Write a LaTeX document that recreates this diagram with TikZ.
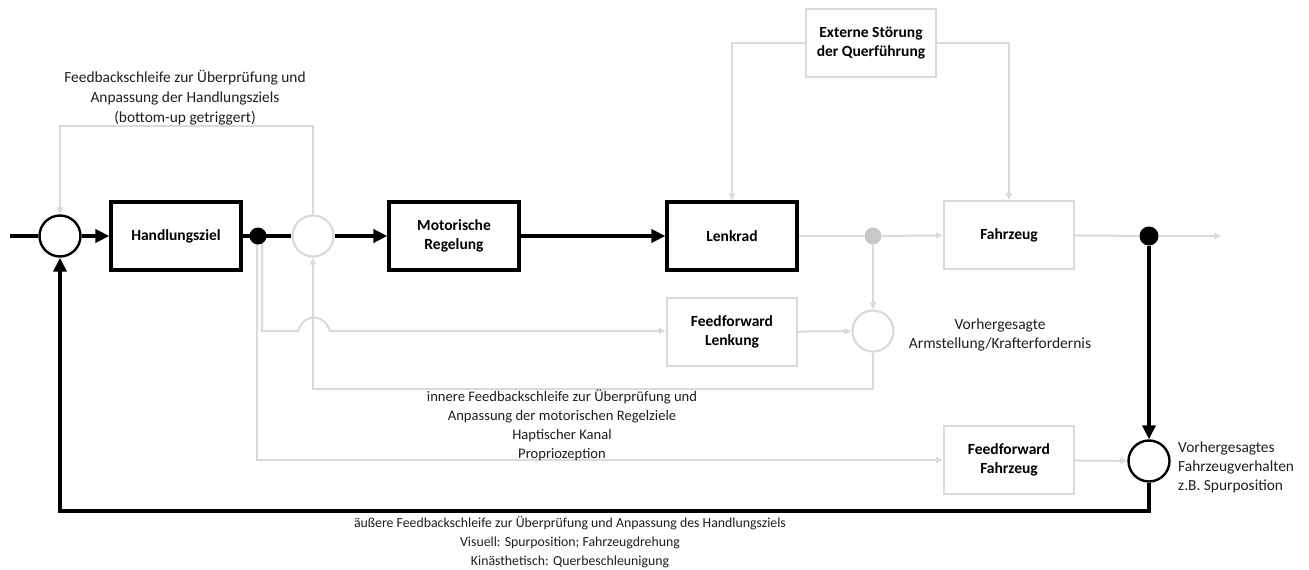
\documentclass[tikz,border=0pt]{standalone}
\usepackage{fontspec}
\setmainfont{Carlito}
\usetikzlibrary{arrows.meta,backgrounds}
\definecolor{lgrey}{HTML}{DADADA}
\definecolor{dotgrey}{HTML}{C8C8C8}
\definecolor{txt}{HTML}{1E1E1E}
\begin{document}
\begin{tikzpicture}[x=1pt,y=-1pt,
  every node/.style={font=\fontsize{15}{19}\selectfont, text=txt},
  blkbox/.style={draw=black, line width=3.2pt, minimum width=130pt, minimum height=68pt, font=\fontsize{15.5}{19}\selectfont\bfseries, align=center, text=black, fill=white},
  grybox/.style={draw=lgrey, line width=2.2pt, minimum width=130pt, minimum height=68pt, font=\fontsize{15.5}{19}\selectfont\bfseries, align=center, text=black, fill=white},
  blkcirc/.style={circle, draw=black, line width=2.4pt, minimum size=41pt, inner sep=0pt, fill=white},
  grycirc/.style={circle, draw=lgrey, line width=2.2pt, minimum size=41pt, inner sep=0pt, fill=white},
  dot/.style={circle, fill=#1, minimum size=17pt, inner sep=0pt},
  blk/.style={draw=black, line width=3.6pt},
  blkarr/.style={blk, -{Triangle[length=14pt,width=13pt]}},
  gry/.style={draw=lgrey, line width=2pt},
  gryarr/.style={gry, -{Triangle[length=7pt,width=6pt]}},
  lbl/.style={align=center, inner sep=0pt}
]
\useasboundingbox (0,0) rectangle (1309,570);

% blocks of the main path
\node[blkcirc] (c1) at (60,236) {};
\node[blkbox] (hz) at (176,236) {Handlungsziel};
\node[dot=black] (d1) at (258,236) {};
\node[grycirc] (c2) at (313,236) {};
\node[blkbox] (mr) at (454,236) {Motorische\\Regelung};
\node[blkbox] (lk) at (732,236) {Lenkrad};
\node[dot=dotgrey] (d2) at (873,236) {};
\node[grybox] (fz) at (1009,235) {Fahrzeug};
\node[dot=black, minimum size=19pt] (d3) at (1149,236) {};
\coordinate (in) at (10,236);
\coordinate (out) at (1221,236);

% disturbance and feedforward blocks
\node[grybox] (ext) at (871,43) {Externe Störung\\der Querführung};
\node[grybox] (ffl) at (732,332) {Feedforward\\Lenkung};
\node[grycirc] (c3) at (873,331) {};
\node[grybox] (ffz) at (1009,460) {Feedforward\\Fahrzeug};
\node[blkcirc] (c4) at (1149,461) {};

% corners of the loops
\coordinate (il) at (313,389);
\coordinate (ol) at (60,511);
\coordinate (j1) at (298,331);
\coordinate (j2) at (330,331);

\begin{scope}[on background layer]
  % main path
  \draw[blk] (in) -- (c1);
  \draw[blkarr] (c1) -- (hz);
  \draw[blk] (hz) -- (c2);
  \draw[blkarr] (c2) -- (mr);
  \draw[blkarr] (mr) -- (lk);
  \draw[gry] (lk) -- (d2);
  \draw[gryarr] (d2) -- (fz);
  \draw[gry] (fz) -- (d3);
  \draw[gryarr] (d3) -- (out);
  % disturbance
  \draw[gryarr] (ext) -| (lk);
  \draw[gryarr] (ext) -| (fz);
  % top feedback loop
  \draw[gryarr] (c2) -- ++(0,-110) -| (c1);
  % feedforward steering
  \draw[gryarr] (d2) -- (c3);
  \draw[gryarr] ([xshift=4pt]d1.center) |- (j1) .. controls (304,313) and (324,313) .. (j2) -- (ffl.west |- j2);
  \draw[gryarr] (ffl) -- (c3);
  % inner feedback loop
  \draw[gryarr] (c3) |- (il) -- (c2);
  % feedforward vehicle
  \draw[gryarr] ([xshift=-1pt]d1.center) |- (ffz);
  \draw[gryarr] (ffz) -- (c4);
  \draw[blkarr] (d3) -- (c4);
  % outer feedback loop
  \draw[blkarr] (c4) |- (ol) -- (c1);
\end{scope}

% labels
\node[lbl, font=\fontsize{15.4}{20}\selectfont] (t1) at (185,98) {Feedbackschleife zur Überprüfung und\\Anpassung der Handlungsziels\\(bottom-up getriggert)};
\node[lbl, font=\fontsize{15.5}{19}\selectfont] (t2) at (1000,335) {Vorhergesagte\\Armstellung/Krafterfordernis};
\node[lbl, font=\fontsize{14.6}{19}\selectfont] (t3) at (562,425) {innere Feedbackschleife zur Überprüfung und\\Anpassung der motorischen Regelziele\\Haptischer Kanal\\Propriozeption};
\node[lbl, align=left, anchor=west, font=\fontsize{15.4}{19}\selectfont] (t4) at (1178,467) {Vorhergesagtes\\Fahrzeugverhalten\\z.B. Spurposition};
\node[lbl, font=\fontsize{13.8}{19}\selectfont] (t5) at (570,542) {äußere Feedbackschleife zur Überprüfung und Anpassung des Handlungsziels\\Visuell: Spurposition; Fahrzeugdrehung\\Kinästhetisch: Querbeschleunigung};
\end{tikzpicture}
\end{document}
